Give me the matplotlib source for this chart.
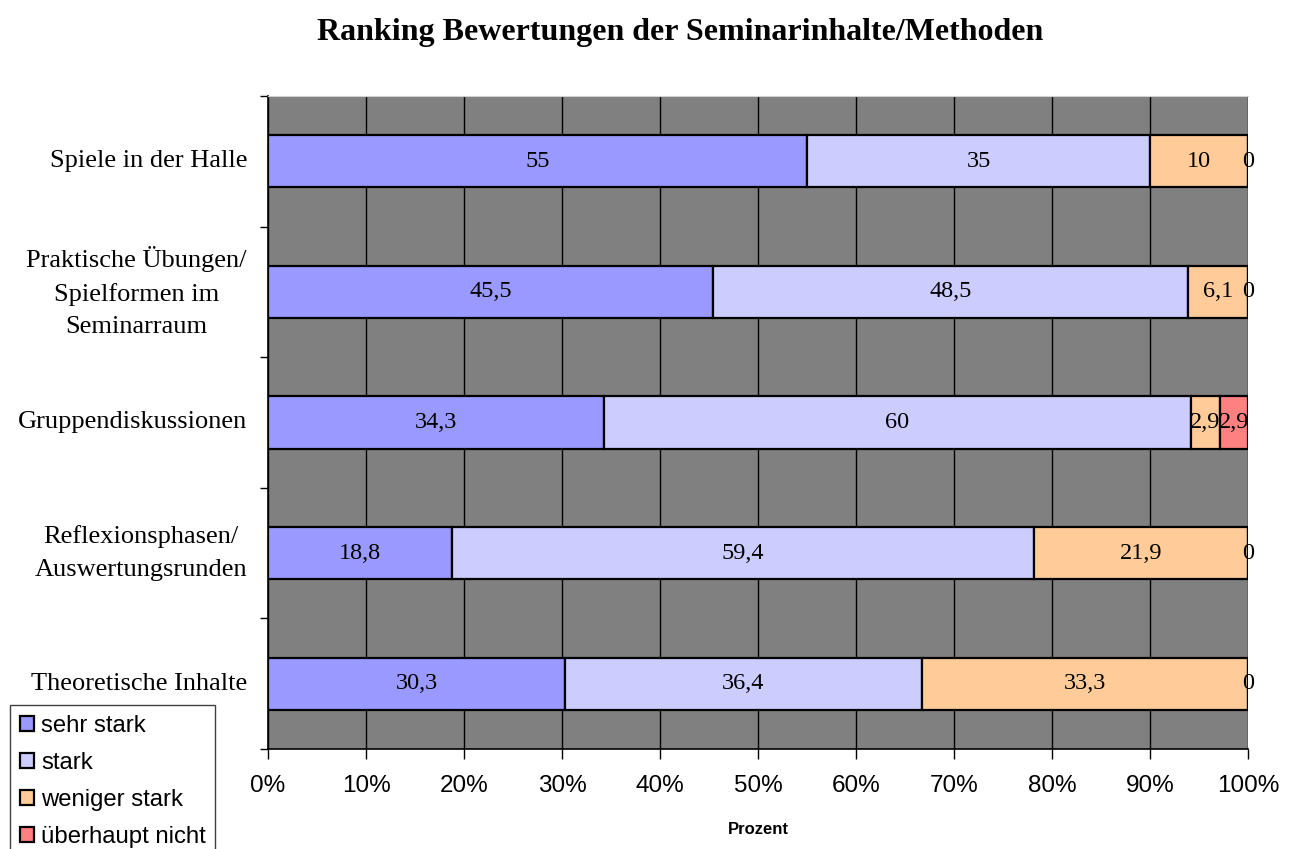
import numpy as np
import matplotlib
matplotlib.use('Agg')
import matplotlib.pyplot as plt
from matplotlib.ticker import MultipleLocator, FixedLocator, PercentFormatter


categories = ['Spiele in der Halle',
              'Praktische Übungen/\nSpielformen im\nSeminarraum',
              'Gruppendiskussionen',
              'Reflexionsphasen/\nAuswertungsrunden',
              'Theoretische Inhalte']

series = ['sehr stark', 'stark', 'weniger stark', 'überhaupt nicht']

sehr_stark = [55, 45.5, 34.3, 18.8, 30.3]
stark = [35, 48.5, 60, 59.4, 36.4]
weniger_stark = [10, 6.1, 2.9, 21.9, 33.3]
ueberhaupt_nicht = [0, 0, 2.9, 0, 0]

colors = ['#9999FF', '#CCCCFF', '#FFCC99', '#FF8080']

serif = 'Liberation Serif'
sans = 'Liberation Sans'

#_____________________________________________________________________________

values = np.array([sehr_stark, stark, weniger_stark, ueberhaupt_nicht])
totals = values.sum(axis = 0)
pct = values / totals * 100

fig = plt.figure(figsize = (12.98, 8.49), dpi = 100)
ax = fig.add_axes([268/1298, 1 - 749/849, 980/1298, 653/849])
ax.set_facecolor('#808080')

y = np.arange(len(categories))
left = np.zeros(len(categories))
for i, name in enumerate(series):
	ax.barh(y, pct[i], left = left, height = 0.4, color = colors[i],
			edgecolor = 'black', linewidth = 1.6, label = name, zorder = 3)
	# value labels in the middle of each segment
	for yi, l, w, v in zip(y, left, pct[i], values[i]):
		ax.text(l + w / 2, yi, f'{v:g}'.replace('.', ','), ha = 'center', va = 'center',
				fontsize = 17.5, family = serif, color = 'black', zorder = 4, clip_on = False)
	left = left + pct[i]

ax.set_xlim(0, 100)
ax.set_ylim(len(categories) - 0.5, -0.5)

ax.xaxis.set_major_locator(MultipleLocator(10))
ax.xaxis.set_major_formatter(PercentFormatter(decimals = 0))
ax.grid(axis = 'x', color = 'black', linewidth = 1.0, zorder = 1)
ax.set_axisbelow(True)

ax.yaxis.set_major_locator(FixedLocator(np.arange(-0.5, len(categories), 1.0)))
ax.yaxis.set_major_formatter(plt.NullFormatter())
ax.tick_params(axis = 'y', which = 'major', direction = 'out', length = 6, width = 1)

# category names, right aligned next to the axis, lines centred
for yi, cat in zip(y, categories):
	ax.annotate(cat, xy = (0, yi), xycoords = ('axes fraction', 'data'),
				xytext = (-21, 0), textcoords = 'offset pixels',
				ha = 'right', va = 'center', multialignment = 'center',
				fontsize = 19, family = serif, linespacing = 1.6)

ax.tick_params(axis = 'x', direction = 'out', length = 7, width = 1, pad = 12, labelsize = 17.5)
for lab in ax.get_xticklabels():
	lab.set_fontfamily(sans)

ax.set_xlabel('Prozent', fontsize = 12, fontweight = 'bold', family = sans, labelpad = 18)

ax.spines['right'].set_visible(False)
ax.spines['top'].set_color('#d0d0d0')
ax.spines['top'].set_linewidth(0.8)
ax.spines['left'].set_linewidth(1.2)
ax.spines['bottom'].set_linewidth(1.2)

fig.suptitle('Ranking Bewertungen der Seminarinhalte/Methoden', x = 680/1298, y = 1 - 18/849,
			 fontsize = 23, fontweight = 'bold', family = serif, va = 'top')

leg = ax.legend(loc = 'upper left', bbox_to_anchor = (10/1298, 1 - 705/849),
				bbox_transform = fig.transFigure, prop = {'family': sans, 'size': 17.2},
				fancybox = False, frameon = True, edgecolor = '#404040', framealpha = 1,
				handlelength = 0.6, handleheight = 0.6, handletextpad = 0.3,
				labelspacing = 0.63, borderpad = 0.4, borderaxespad = 0)
leg.get_frame().set_linewidth(1.0)

plt.savefig('out.png', dpi = 100)
